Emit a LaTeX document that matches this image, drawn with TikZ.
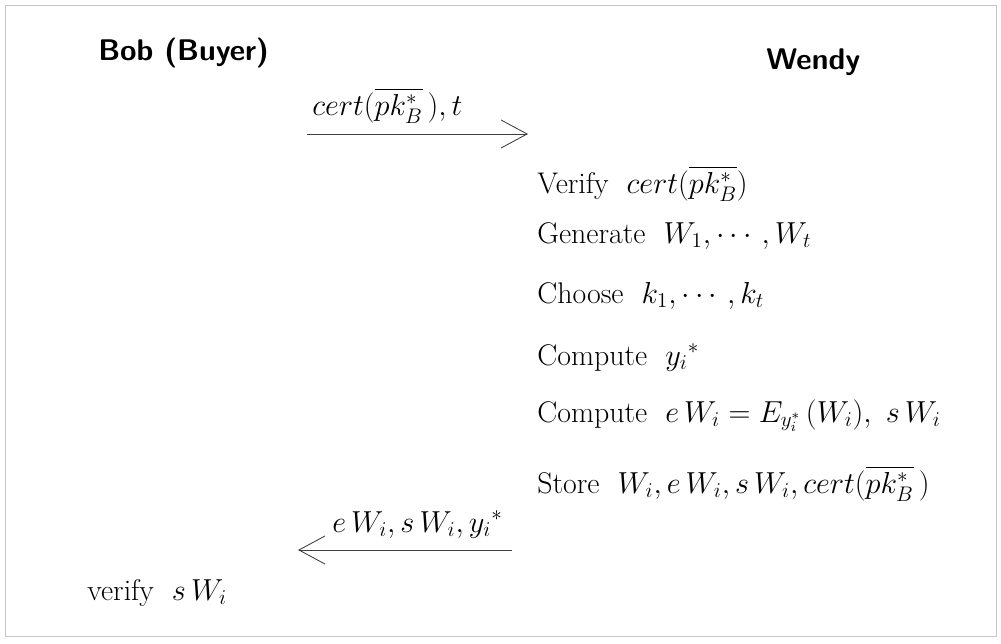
\documentclass[tikz,border=0pt]{standalone}
\usepackage{amsmath,amssymb}
\usepackage{tikz}
\usetikzlibrary{arrows.meta,positioning,calc}
\newcommand{\pkb}{\overline{pk_B^{*}}}
\tikzset{
  party/.style={anchor=base west, inner sep=0pt, font=\sffamily\bfseries\fontsize{17}{20}\selectfont},
  stepline/.style={anchor=base west, inner sep=0pt, font=\fontsize{17}{20}\selectfont},
  msglabel/.style={anchor=base west, inner sep=0pt, font=\fontsize{17}{20}\selectfont},
  msgarrow/.style={line width=0.5pt, black!75, -{Straight Barb[length=0.52cm, width=0.56cm, line width=0.5pt]}},
}

\begin{document}
\begin{tikzpicture}[x=0.02cm, y=-0.02cm]
    \useasboundingbox (0,0) rectangle (1001,643);
    \draw[gray!45, line width=0.4pt] (5,5) rectangle (996,636);
    % parties
    \node[party] (bob) at (98,60) {Bob (Buyer)};
    \node[party] (wendy) at (766,69) {Wendy};
    % first message
    \node[msglabel] (m1) at (312,115) {$cert(\pkb\,),t$};
    \coordinate (m1s) at (307,134);
    \coordinate (m1e) at (528,134);
    \draw[msgarrow] (m1s) -- (m1e);
    % Wendy's side
    \node[stepline] (w1) at (537,193) {Verify\ \ $cert(\pkb)$};
    \node[stepline] (w2) at (537,243) {Generate\ \ $W_1,\cdots,W_t$};
    \node[stepline] (w3) at (537,303) {Choose\ \ $k_1,\cdots,k_t$};
    \node[stepline] (w4) at (537,365) {Compute\ \ ${y_i}^{*}$};
    \node[stepline] (w5) at (537,422) {Compute\ \ $e\,W_i=E_{y_i^{*}}\,(W_i),\ s\,W_i$};
    \node[stepline] (w6) at (537,493) {Store\ \ $W_i,e\,W_i,s\,W_i,cert(\pkb\,)$};
    % second message
    \node[msglabel] (m2) at (332,532) {$e\,W_i,s\,W_i,{y_i}^{*}$};
    \coordinate (m2s) at (512,550);
    \coordinate (m2e) at (298,550);
    \draw[msgarrow] (m2s) -- (m2e);
    % Bob's check
    \node[stepline] (b1) at (87,600) {verify\ \ $s\,W_i$};
  \end{tikzpicture}
\end{document}
